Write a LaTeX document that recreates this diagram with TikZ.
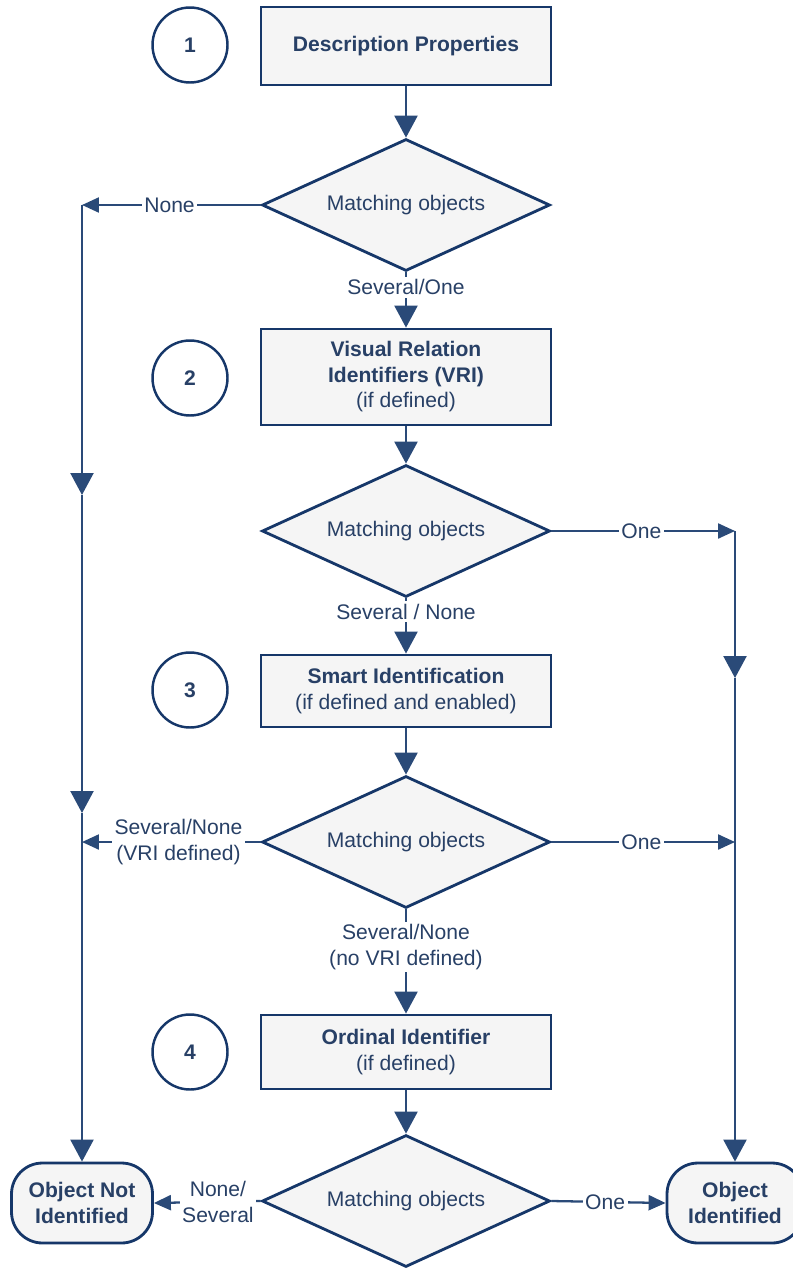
\documentclass[tikz,border=0pt]{standalone}
\usepackage{fontspec}
\setmainfont{Liberation Sans}
\usepackage{tikz}
\usetikzlibrary{arrows.meta,shapes.geometric}
\usepackage{xcolor}
\definecolor{navy}{RGB}{22,55,105}
\definecolor{linec}{RGB}{42,74,120}
\definecolor{textc}{RGB}{40,64,102}
\definecolor{boxfill}{RGB}{245,245,245}

\begin{document}
\begin{tikzpicture}[x=0.02cm,y=-0.02cm,font=\fontsize{12}{14.5}\selectfont,
  stepbox/.style={draw=navy,line width=1.6pt,fill=boxfill,minimum width=5.8cm,align=center,text=textc,inner sep=2pt},
  decide/.style={diamond,aspect=2.15,draw=navy,line width=1.6pt,fill=boxfill,minimum width=5.76cm,minimum height=2.64cm,inner sep=0pt,text=textc},
  stage/.style={circle,draw=navy,line width=1.4pt,fill=white,minimum size=1.5cm,font=\fontsize{12}{14}\selectfont\bfseries,text=textc},
  term/.style={draw=navy,line width=1.6pt,fill=boxfill,rounded corners=0.62cm,minimum height=1.6cm,align=center,text=textc,font=\fontsize{12}{14.5}\selectfont\bfseries},
  flow/.style={draw=linec,line width=1.3pt,-{Triangle[length=0.44cm,width=0.46cm]}},
  side/.style={draw=linec,line width=1.3pt,-{Triangle[length=0.34cm,width=0.3cm]}},
  lbl/.style={fill=white,text=textc,inner sep=1.5pt,align=center}]
\useasboundingbox (0,0) rectangle (792,1268);
% stages
\node[stage] (s1) at (190,45) {1};
\node[stage] (s2) at (190,378) {2};
\node[stage] (s3) at (190,690) {3};
\node[stage] (s4) at (190,1052) {4};
% steps and decisions
\node[stepbox,minimum height=1.56cm] (b1) at (406,46) {\textbf{Description Properties}};
\node[decide] (d1) at (406,205) {Matching objects};
\node[stepbox,minimum height=1.92cm] (b2) at (406,377) {\textbf{Visual Relation}\\\textbf{Identifiers (VRI)}\\(if defined)};
\node[decide] (d2) at (406,531) {Matching objects};
\node[stepbox,minimum height=1.44cm] (b3) at (406,691) {\textbf{Smart Identification}\\(if defined and enabled)};
\node[decide] (d3) at (406,842) {Matching objects};
\node[stepbox,minimum height=1.48cm] (b4) at (406,1052) {\textbf{Ordinal Identifier}\\(if defined)};
\node[decide] (d4) at (406,1201) {Matching objects};
% results
\node[term,minimum width=2.82cm] (nni) at (82,1203) {Object Not\\Identified};
\node[term,minimum width=2.72cm] (oi) at (735,1203) {Object\\Identified};
% rail points
\coordinate (lt) at (nni.north |- d1.west);
\coordinate (lm1) at (82,495);
\coordinate (lj) at (nni.north |- d3.west);
\coordinate (lm2) at (82,813);
\coordinate (rt) at (oi.north |- d2.east);
\coordinate (rm1) at (735,678);
\coordinate (rj) at (oi.north |- d3.east);
% main flow
\draw[flow] (b1.south) -- (d1.north);
\draw[flow] (d1.south) -- node[lbl,pos=0.27]{Several/One} (b2.north);
\draw[flow] (b2.south) -- (d2.north);
\draw[flow] (d2.south) -- node[lbl,pos=0.24]{Several / None} (b3.north);
\draw[flow] (b3.south) -- (d3.north);
\draw[flow] (d3.south) -- node[lbl,pos=0.36]{Several/None\\(no VRI defined)} (b4.north);
\draw[flow] (b4.south) -- (d4.north);
% left rail
\draw[side] (d1.west) -- node[lbl,pos=0.51]{None} (lt);
\draw[flow] (lt) -- (lm1);
\draw[flow] (lm1) -- (lm2);
\draw[flow] (lm2) -- (nni.north);
\draw[side] (d3.west) -- node[lbl,pos=0.46]{Several/None\\(VRI defined)} (lj);
\draw[side] (d4.west) -- node[lbl,pos=0.4]{None/\\Several} (nni.east);
% right rail
\draw[side] (d2.east) -- node[lbl,pos=0.49]{One} (rt);
\draw[flow] (rt) -- (rm1);
\draw[flow] (rm1) -- (oi.north);
\draw[side] (d3.east) -- node[lbl,pos=0.49]{One} (rj);
\draw[side] (d4.east) -- node[lbl,pos=0.47]{One} (oi.west);
\end{tikzpicture}
\end{document}
